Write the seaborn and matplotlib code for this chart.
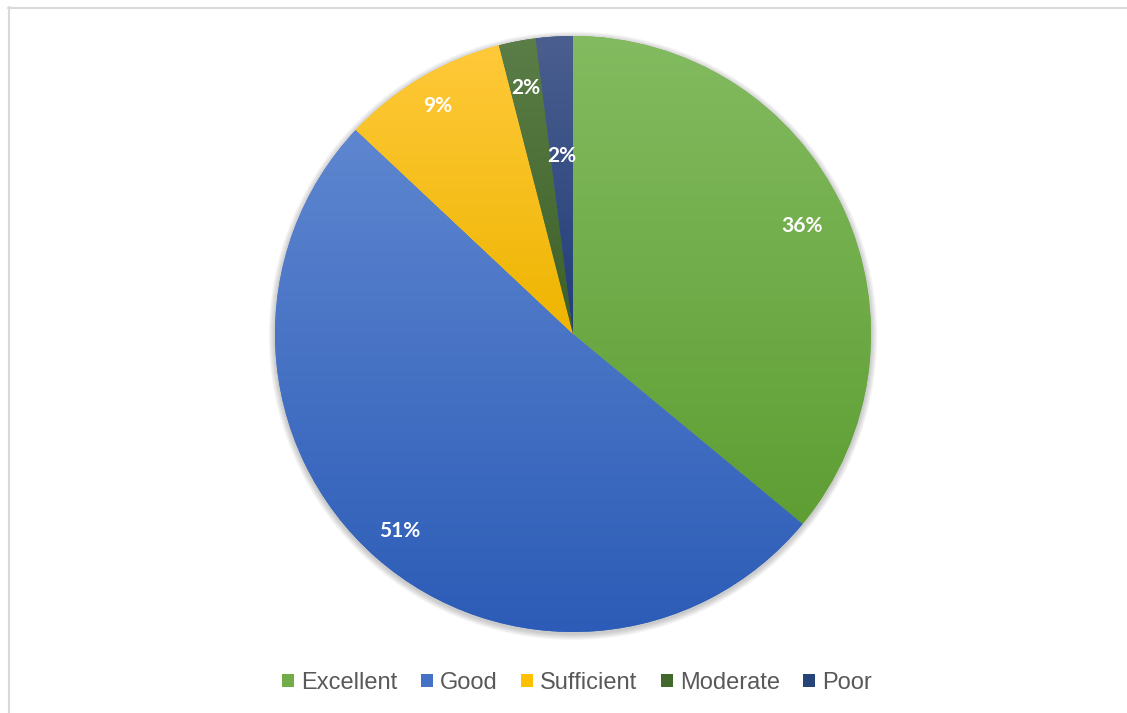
import numpy as np
import matplotlib
matplotlib.use("Agg")
import matplotlib.pyplot as plt
from matplotlib.colors import to_rgb
from matplotlib.patches import Patch, Circle
from matplotlib.lines import Line2D
import seaborn as sns

# Rating distribution
categories = ["Excellent", "Good", "Sufficient", "Moderate", "Poor"]
shares = [36, 51, 9, 2, 2]
colors = ["#70AD47", "#4472C4", "#FFC000", "#43682B", "#264478"]
# gradient end colours for each wedge (top -> bottom)
grad_top = ["#83BB60", "#5E86D0", "#FFC93A", "#5B7E48", "#4B5F8F"]
grad_bottom = ["#5E9E33", "#2C5CB7", "#EEB500", "#3C6026", "#213E79"]
label_radius = [0.85, 0.88, 0.89, 0.84, 0.60]

sns.set_theme(style="white")
plt.rcParams["font.family"] = ["Liberation Sans", "DejaVu Sans"]

W, H = 1127, 713
fig = plt.figure(figsize=(W / 100, H / 100), dpi=100)
fig.patch.set_facecolor("white")

# pie axes: a square exactly enclosing the unit circle
cx, cy, r = 573, 334, 298
ax = fig.add_axes([(cx - r) / W, (H - cy - r) / H, 2 * r / W, 2 * r / H])

# soft drop shadow behind the pie
for i in range(6):
    ax.add_patch(Circle((0, -0.006), 1.0 + 0.0035 * (i + 1), facecolor="black",
                        edgecolor="none", alpha=0.035, zorder=0, clip_on=False))

wedges, _ = ax.pie(shares, colors=colors, startangle=90, counterclock=False,
                   radius=1, wedgeprops=dict(linewidth=0))

# vertical gradient fill in each wedge, lighter at the top
for w, ct, cb in zip(wedges, grad_top, grad_bottom):
    ext = w.get_path().get_extents()
    top, bot = np.array(to_rgb(ct)), np.array(to_rgb(cb))
    t = np.linspace(0, 1, 256)[:, None]
    grad = (top[None, :] * (1 - t) + bot[None, :] * t)[:, None, :]
    im = ax.imshow(grad, extent=[ext.x0, ext.x1, ext.y0, ext.y1], origin="upper",
                   aspect="auto", zorder=w.get_zorder() + 0.1, interpolation="bilinear")
    im.set_clip_path(w)

# percentage labels at each wedge's mid angle
total = sum(shares)
cum = np.cumsum(shares)
for s, cm, d in zip(shares, cum, label_radius):
    theta = np.deg2rad(360 * (cm - s / 2) / total)
    ax.text(d * np.sin(theta), d * np.cos(theta), f"{round(100 * s / total)}%",
            ha="center", va="center", color="white", fontsize=15,
            fontweight="bold", family=["Lato", "DejaVu Sans"], zorder=5)

ax.set_xlim(-1, 1)
ax.set_ylim(-1, 1)
ax.set_aspect("equal")
ax.axis("off")

# legend along the bottom
handles = [Patch(facecolor=c, edgecolor="none") for c in colors]
fig.legend(handles, categories, loc="center", bbox_to_anchor=(577 / W, (H - 683) / H),
           ncol=5, frameon=False, fontsize=17, labelcolor="#595959",
           handlelength=0.5, handleheight=0.5, handletextpad=0.3, columnspacing=1.0)

# chart area border (top and left edges)
fig.add_artist(Line2D([8 / W, 1], [(H - 7.5) / H] * 2, transform=fig.transFigure,
                      color="#D9D9D9", linewidth=1.5))
fig.add_artist(Line2D([8.5 / W] * 2, [0, (H - 7) / H], transform=fig.transFigure,
                      color="#D9D9D9", linewidth=1.5))

fig.savefig("out.png", dpi=100, facecolor="white")
